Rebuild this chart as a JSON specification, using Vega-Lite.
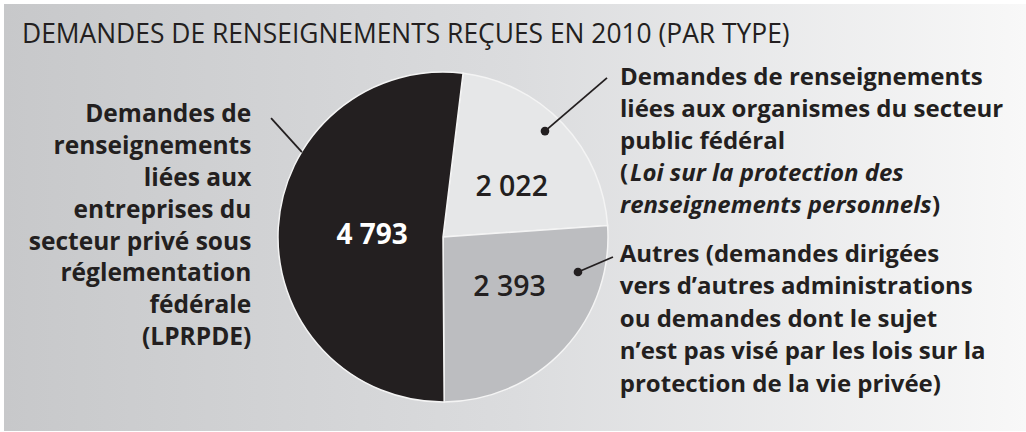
{
  "$schema": "https://vega.github.io/schema/vega-lite/v6.json",
  "autosize": {"type": "none"},
  "width": 1022,
  "height": 427,
  "padding": {"left": 4, "top": 4, "right": 0, "bottom": 1},
  "background": "#ffffff",
  "config": {
    "font": "Open Sans",
    "view": {
      "stroke": null,
      "fill": {
        "gradient": "linear",
        "x1": 0, "y1": 0, "x2": 1, "y2": 0,
        "stops": [
          {"offset": 0, "color": "#c7c8ca"},
          {"offset": 0.5, "color": "#dbdcde"},
          {"offset": 1, "color": "#f8f8f8"}
        ]
      }
    },
    "locale": {"number": {"decimal": ",", "thousands": "\u00a0", "grouping": [3], "currency": ["", " $"]}}
  },
  "data": {
    "values": [
      {"type": "public", "order": 1, "count": 2022,
       "label": "Demandes de renseignements\nliées aux organismes du secteur\npublic fédéral",
       "law1": "Loi sur la protection des", "law2": "renseignements personnels"},
      {"type": "autres", "order": 2, "count": 2393,
       "label": "Autres (demandes dirigées\nvers d’autres administrations\nou demandes dont le sujet\nn’est pas visé par les lois sur la\nprotection de la vie privée)"},
      {"type": "prive", "order": 3, "count": 4793,
       "label": "Demandes de\nrenseignements\nliées aux\nentreprises du\nsecteur privé sous\nréglementation\nfédérale\n(LPRPDE)"}
    ]
  },
  "layer": [
    {
      "mark": {"type": "arc", "outerRadius": 165, "stroke": "#f4f4f4", "strokeWidth": 1.5},
      "encoding": {
        "theta": {"field": "count", "type": "quantitative", "stack": true, "scale": {"range": [0.122, 6.405]}},
        "order": {"field": "order", "type": "quantitative"},
        "color": {"field": "type", "type": "nominal", "legend": null,
                  "scale": {"domain": ["public", "autres", "prive"], "range": ["#e6e7e8", "#bcbdc0", "#231f20"]}},
        "x": {"datum": 0, "type": "quantitative", "scale": {"domain": [-2.66061, 3.53333], "nice": false, "zero": false}, "axis": null},
        "y": {"datum": 0, "type": "quantitative", "scale": {"domain": [-1.17576, 1.41212], "nice": false, "zero": false}, "axis": null}
      }
    },
    {
      "data": {"values": [{"title": "DEMANDES DE RENSEIGNEMENTS REÇUES EN 2010 (PAR TYPE)"}]},
      "mark": {"type": "text", "align": "left", "baseline": "alphabetic", "fontSize": 26.4, "fontWeight": "normal", "color": "#231f20"},
      "encoding": {
        "x": {"datum": -2.5515, "type": "quantitative"},
        "y": {"datum": 1.1758, "type": "quantitative"},
        "text": {"field": "title"}
      }
    },
    {
      "transform": [{"filter": "datum.type === 'prive'"}],
      "mark": {"type": "rule", "color": "#231f20", "strokeWidth": 1.8},
      "encoding": {
        "x": {"datum": -1.042, "type": "quantitative"},
        "y": {"datum": 0.721, "type": "quantitative"},
        "x2": {"datum": -0.855},
        "y2": {"datum": 0.515}
      }
    },
    {
      "transform": [{"filter": "datum.type === 'public'"}],
      "mark": {"type": "rule", "color": "#231f20", "strokeWidth": 1.8},
      "encoding": {
        "x": {"datum": 0.618, "type": "quantitative"},
        "y": {"datum": 0.642, "type": "quantitative"},
        "x2": {"datum": 0.994},
        "y2": {"datum": 0.964}
      }
    },
    {
      "transform": [{"filter": "datum.type === 'public'"}],
      "mark": {"type": "point", "filled": true, "color": "#231f20", "size": 75, "opacity": 1},
      "encoding": {
        "x": {"datum": 0.618, "type": "quantitative"},
        "y": {"datum": 0.642, "type": "quantitative"}
      }
    },
    {
      "transform": [{"filter": "datum.type === 'autres'"}],
      "mark": {"type": "rule", "color": "#231f20", "strokeWidth": 1.8},
      "encoding": {
        "x": {"datum": 0.818, "type": "quantitative"},
        "y": {"datum": -0.212, "type": "quantitative"},
        "x2": {"datum": 1.03},
        "y2": {"datum": -0.121}
      }
    },
    {
      "transform": [{"filter": "datum.type === 'autres'"}],
      "mark": {"type": "point", "filled": true, "color": "#231f20", "size": 75, "opacity": 1},
      "encoding": {
        "x": {"datum": 0.818, "type": "quantitative"},
        "y": {"datum": -0.212, "type": "quantitative"}
      }
    },
    {
      "mark": {"type": "text", "radius": 71, "dy": 3, "align": "center", "baseline": "middle", "fontSize": 28, "fontWeight": "bold", "color": "#ffffff"},
      "encoding": {
        "theta": {"field": "count", "type": "quantitative", "stack": true},
        "order": {"field": "order", "type": "quantitative"},
        "x": {"datum": 0, "type": "quantitative"},
        "y": {"datum": 0, "type": "quantitative"},
        "text": {"condition": {"test": "datum.type === 'prive'", "field": "count", "type": "quantitative", "format": ",d"}, "value": ""}
      }
    },
    {
      "mark": {"type": "text", "radius": 85, "dx": 7, "dy": 8, "align": "center", "baseline": "middle", "fontSize": 28.5, "fontWeight": 600, "color": "#231f20"},
      "encoding": {
        "theta": {"field": "count", "type": "quantitative", "stack": true},
        "order": {"field": "order", "type": "quantitative"},
        "x": {"datum": 0, "type": "quantitative"},
        "y": {"datum": 0, "type": "quantitative"},
        "text": {"condition": {"test": "datum.type === 'public'", "field": "count", "type": "quantitative", "format": ",d"}, "value": ""}
      }
    },
    {
      "mark": {"type": "text", "radius": 84, "dx": 5, "dy": -7, "align": "center", "baseline": "middle", "fontSize": 28.5, "fontWeight": 600, "color": "#231f20"},
      "encoding": {
        "theta": {"field": "count", "type": "quantitative", "stack": true},
        "order": {"field": "order", "type": "quantitative"},
        "x": {"datum": 0, "type": "quantitative"},
        "y": {"datum": 0, "type": "quantitative"},
        "text": {"condition": {"test": "datum.type === 'autres'", "field": "count", "type": "quantitative", "format": ",d"}, "value": ""}
      }
    },
    {
      "mark": {"type": "text", "radius": 192, "dy": -104, "align": "right", "baseline": "alphabetic", "lineBreak": "\n", "lineHeight": 31.9, "fontSize": 24.5, "fontWeight": "bold", "color": "#231f20"},
      "encoding": {
        "theta": {"field": "count", "type": "quantitative", "stack": true},
        "order": {"field": "order", "type": "quantitative"},
        "x": {"datum": 0, "type": "quantitative"},
        "y": {"datum": 0, "type": "quantitative"},
        "text": {"condition": {"test": "datum.type === 'prive'", "field": "label"}, "value": ""}
      }
    },
    {
      "mark": {"type": "text", "radius": 244, "dy": 16, "align": "left", "baseline": "alphabetic", "lineBreak": "\n", "lineHeight": 32, "fontSize": 24, "fontWeight": "bold", "color": "#231f20"},
      "encoding": {
        "theta": {"field": "count", "type": "quantitative", "stack": true},
        "order": {"field": "order", "type": "quantitative"},
        "x": {"datum": 0, "type": "quantitative"},
        "y": {"datum": 0, "type": "quantitative"},
        "text": {"condition": {"test": "datum.type === 'public'", "field": "label"}, "value": ""}
      }
    },
    {
      "mark": {"type": "text", "radius": 244, "dy": 112, "align": "left", "baseline": "alphabetic", "fontSize": 24, "fontWeight": "bold", "color": "#231f20"},
      "encoding": {
        "theta": {"field": "count", "type": "quantitative", "stack": true},
        "order": {"field": "order", "type": "quantitative"},
        "x": {"datum": 0, "type": "quantitative"},
        "y": {"datum": 0, "type": "quantitative"},
        "text": {"condition": {"test": "datum.type === 'public'", "value": "("}, "value": ""}
      }
    },
    {
      "mark": {"type": "text", "radius": 244, "dx": 10, "dy": 112, "align": "left", "baseline": "alphabetic", "fontSize": 24, "fontWeight": "bold", "fontStyle": "italic", "color": "#231f20"},
      "encoding": {
        "theta": {"field": "count", "type": "quantitative", "stack": true},
        "order": {"field": "order", "type": "quantitative"},
        "x": {"datum": 0, "type": "quantitative"},
        "y": {"datum": 0, "type": "quantitative"},
        "text": {"condition": {"test": "datum.type === 'public'", "field": "law1"}, "value": ""}
      }
    },
    {
      "mark": {"type": "text", "radius": 244, "dy": 144, "align": "left", "baseline": "alphabetic", "fontSize": 24, "fontWeight": "bold", "fontStyle": "italic", "color": "#231f20"},
      "encoding": {
        "theta": {"field": "count", "type": "quantitative", "stack": true},
        "order": {"field": "order", "type": "quantitative"},
        "x": {"datum": 0, "type": "quantitative"},
        "y": {"datum": 0, "type": "quantitative"},
        "text": {"condition": {"test": "datum.type === 'public'", "field": "law2"}, "value": ""}
      }
    },
    {
      "mark": {"type": "text", "radius": 244, "dx": 312, "dy": 144, "align": "left", "baseline": "alphabetic", "fontSize": 24, "fontWeight": "bold", "color": "#231f20"},
      "encoding": {
        "theta": {"field": "count", "type": "quantitative", "stack": true},
        "order": {"field": "order", "type": "quantitative"},
        "x": {"datum": 0, "type": "quantitative"},
        "y": {"datum": 0, "type": "quantitative"},
        "text": {"condition": {"test": "datum.type === 'public'", "value": ")"}, "value": ""}
      }
    },
    {
      "mark": {"type": "text", "radius": 241, "dy": -139, "align": "left", "baseline": "alphabetic", "lineBreak": "\n", "lineHeight": 32.5, "fontSize": 24, "fontWeight": "bold", "color": "#231f20"},
      "encoding": {
        "theta": {"field": "count", "type": "quantitative", "stack": true},
        "order": {"field": "order", "type": "quantitative"},
        "x": {"datum": 0, "type": "quantitative"},
        "y": {"datum": 0, "type": "quantitative"},
        "text": {"condition": {"test": "datum.type === 'autres'", "field": "label"}, "value": ""}
      }
    }
  ]
}
